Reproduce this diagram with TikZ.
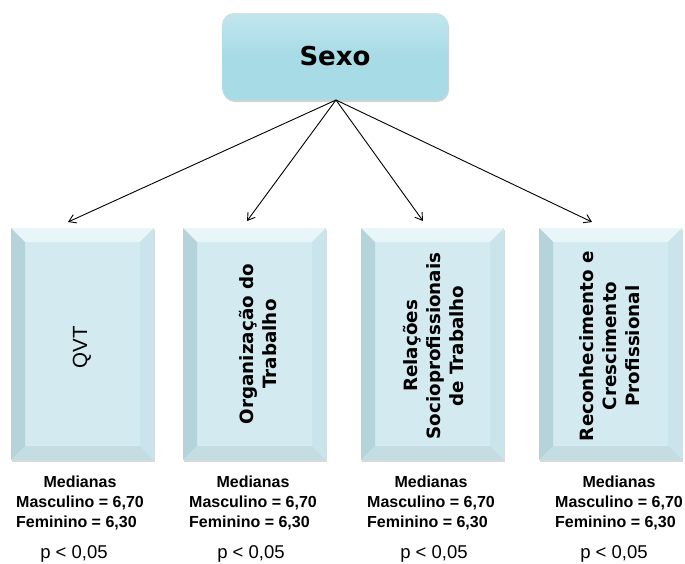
\documentclass[tikz,border=0pt]{standalone}
\usepackage{fontspec}
\setmainfont{Liberation Sans}
\newfontfamily\dvs{DejaVu Sans}
\usetikzlibrary{arrows.meta,calc,shadows}
\definecolor{boxfill}{HTML}{D2EAF0}
\definecolor{bevtopc}{HTML}{E8F6F9}
\definecolor{bevleftc}{HTML}{B4D3DB}
\definecolor{bevrightc}{HTML}{C9E4EB}
\definecolor{bevbotc}{HTML}{C3DDE3}
\definecolor{sexofill}{HTML}{A7DBE6}
\newcommand{\bvw}{14pt}
\tikzset{
  bevelbox/.style={minimum width=143pt, minimum height=232pt, inner sep=0pt,
    fill=boxfill, draw=none,
    drop shadow={opacity=0.3, shadow xshift=1pt, shadow yshift=-2pt},
    path picture={
      \fill[bevtopc] (path picture bounding box.north west) -- (path picture bounding box.north east)
        -- ([xshift=-\bvw,yshift=-\bvw]path picture bounding box.north east)
        -- ([xshift=\bvw,yshift=-\bvw]path picture bounding box.north west) -- cycle;
      \fill[bevleftc] (path picture bounding box.north west) -- ([xshift=\bvw,yshift=-\bvw]path picture bounding box.north west)
        -- ([xshift=\bvw,yshift=\bvw]path picture bounding box.south west)
        -- (path picture bounding box.south west) -- cycle;
      \fill[bevrightc] (path picture bounding box.north east) -- ([xshift=-\bvw,yshift=-\bvw]path picture bounding box.north east)
        -- ([xshift=-\bvw,yshift=\bvw]path picture bounding box.south east)
        -- (path picture bounding box.south east) -- cycle;
      \fill[bevbotc] (path picture bounding box.south west) -- ([xshift=\bvw,yshift=\bvw]path picture bounding box.south west)
        -- ([xshift=-\bvw,yshift=\bvw]path picture bounding box.south east)
        -- (path picture bounding box.south east) -- cycle;
    }},
  boxtitle/.style={rotate=90, align=center, font=\dvs\bfseries\fontsize{18.3}{23}\selectfont, inner sep=0pt},
  sexobox/.style={minimum width=226pt, minimum height=87pt, rounded corners=12pt, inner sep=0pt,
    top color=sexofill!70!white, bottom color=sexofill, middle color=sexofill, draw=none,
    drop shadow={opacity=0.35, shadow xshift=1pt, shadow yshift=-2pt},
    font=\dvs\bfseries\fontsize{26}{30}\selectfont},
  stats/.style={inner sep=0pt, font=\bfseries\fontsize{16}{20}\selectfont},
  pval/.style={inner sep=0pt, font=\fontsize{18.5}{22}\selectfont},
  conn/.style={line width=0.9pt, -{Straight Barb[length=7pt,width=9pt]}},
}
\begin{document}
\begin{tikzpicture}[x=1pt,y=-1pt]
\useasboundingbox (0,0) rectangle (685,563);
\node[sexobox] (sexo) at (335,56.5) {Sexo};

\node[bevelbox] (b1) at (82.5,344) {};
\node[bevelbox] (b2) at (254.5,344) {};
\node[bevelbox] (b3) at (432.5,344) {};
\node[bevelbox] (b4) at (610.5,344) {};

\node[rotate=90, inner sep=0pt, font=\fontsize{20.5}{23}\selectfont] (t1) at (82,347) {QVT};
\node[boxtitle] (t2) at (258,344) {Organização do\\Trabalho};
\node[boxtitle] (t3) at (434,346) {Relações\\Socioprofissionais\\de Trabalho};
\node[boxtitle] (t4) at (610,346) {Reconhecimento e\\Crescimento\\Profissional};

\coordinate (a1) at (68,222);
\coordinate (a2) at (247,221);
\coordinate (a3) at (423,221);
\coordinate (a4) at (592,222);
\coordinate (src) at (336,100);
\foreach \i in {1,2,3,4} \draw[conn] (src) -- (a\i);

\node[stats] (m1) at (80,503) {\begin{tabular}{@{}l@{}}\multicolumn{1}{@{}c@{}}{Medianas}\\Masculino = 6,70\\Feminino = 6,30\end{tabular}};
\node[stats] (m2) at (253,503) {\begin{tabular}{@{}l@{}}\multicolumn{1}{@{}c@{}}{Medianas}\\Masculino = 6,70\\Feminino = 6,30\end{tabular}};
\node[stats] (m3) at (431,503) {\begin{tabular}{@{}l@{}}\multicolumn{1}{@{}c@{}}{Medianas}\\Masculino = 6,70\\Feminino = 6,30\end{tabular}};
\node[stats] (m4) at (619,503) {\begin{tabular}{@{}l@{}}\multicolumn{1}{@{}c@{}}{Medianas}\\Masculino = 6,70\\Feminino = 6,30\end{tabular}};

\node[pval] (p1) at (74,554) {p < 0,05};
\node[pval] (p2) at (251,554) {p < 0,05};
\node[pval] (p3) at (434,554) {p < 0,05};
\node[pval] (p4) at (614,554) {p < 0,05};
\end{tikzpicture}
\end{document}
